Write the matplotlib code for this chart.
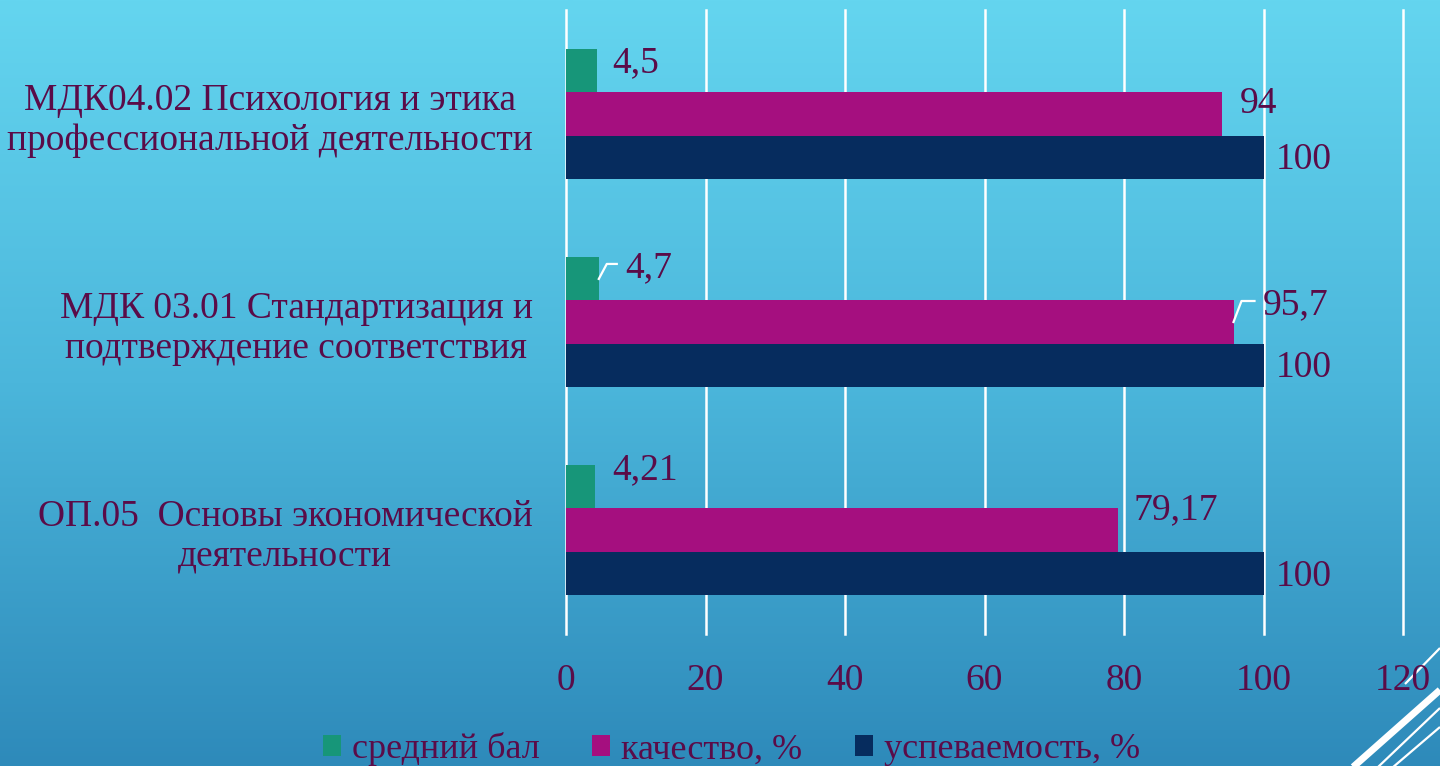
import numpy as np
import matplotlib
matplotlib.use("Agg")
import matplotlib.pyplot as plt
from matplotlib.patches import Patch
from matplotlib.colors import LinearSegmentedColormap
import matplotlib.transforms as mtransforms

plt.rcParams['font.family'] = ['Liberation Serif', 'DejaVu Serif']

# ---- data ----
categories = ["МДК04.02 Психология и этика\nпрофессиональной деятельности",
              "МДК 03.01 Стандартизация и\nподтверждение соответствия",
              "ОП.05  Основы экономической\nдеятельности"]
series_names = ["средний бал", "качество, %", "успеваемость, %"]
avg_score = [4.5, 4.7, 4.21]
quality = [94, 95.7, 79.17]
progress = [100, 100, 100]
value_labels = [["4,5", "4,7", "4,21"],
                ["94", "95,7", "79,17"],
                ["100", "100", "100"]]
x_ticks = [0, 20, 40, 60, 80, 100, 120]

# ---- style ----
colors = ["#179679", "#a50f7f", "#062c5e"]
text_color = "#5a0c48"
FS = 27

# label offsets in pixels (dx, dy up) per series per category
label_offsets = [[(15, 8), (26, 11), (17, 17)],
                 [(18, 10), (29, 17), (15, 20)],
                 [(12, -3), (12, -3), (12, -4)]]
leaders = {(0, 1): True, (1, 1): True}

W, H = 1440, 766
fig = plt.figure(figsize=(W / 100, H / 100), dpi=100)

# background gradient
bg = fig.add_axes([0, 0, 1, 1], zorder=-10)
cmap = LinearSegmentedColormap.from_list("bg", ["#64d5ef", "#4bb6db", "#2e8aba"])
grad = np.linspace(0, 1, 256).reshape(-1, 1)
bg.imshow(grad, aspect='auto', cmap=cmap, extent=[0, W, H, 0])
bg.set_xlim(0, W)
bg.set_ylim(H, 0)
bg.axis('off')
# decorative lines bottom-right
bg.plot([1440, 1405], [648, 684], color='white', lw=1.6, solid_capstyle='butt')
bg.plot([1440, 1352], [690, 768], color='white', lw=5, solid_capstyle='butt')
bg.plot([1440, 1377], [708, 768], color='white', lw=1.6, solid_capstyle='butt')
bg.plot([1440, 1392], [727, 768], color='white', lw=1.6, solid_capstyle='butt')

ax = fig.add_axes([566 / W, 1 - 634 / H, (1403 - 566) / W, (634 - 10) / H])
ax.set_facecolor('none')

y = np.arange(len(categories))
h = 0.207
all_series = [avg_score, quality, progress]
for i, vals in enumerate(all_series):
    ax.barh(y + (i - 1) * h, vals, height=h, color=colors[i], zorder=3,
            label=series_names[i])
    for j, v in enumerate(vals):
        dx, dy = label_offsets[i][j]
        yc = y[j] + (i - 1) * h
        ax.annotate(value_labels[i][j], xy=(v, yc), xytext=(dx, dy),
                    textcoords='offset pixels', ha='left', va='center',
                    fontsize=FS, color=text_color, zorder=5)
        if (i, j) in leaders:
            trans = fig.dpi_scale_trans + mtransforms.ScaledTranslation(v, yc, ax.transData)
            pts = np.array([[0, 0], [8, dy + 4], [dx - 8, dy + 4]]) / 100.0
            ax.plot(pts[:, 0], pts[:, 1], transform=trans, color='white', lw=1.6,
                    zorder=6, clip_on=False)

ax.set_ylim(2.5, -0.5)
ax.set_xlim(0, 120)
ax.set_xticks(x_ticks)
ax.set_xticklabels([str(t) for t in x_ticks])
ax.set_yticks(y)
ax.set_yticklabels(categories, multialignment='center')
ax.tick_params(axis='y', length=0, pad=24, labelsize=FS, labelcolor=text_color)
ax.tick_params(axis='x', length=0, pad=21, labelsize=FS, labelcolor=text_color)
ax.grid(axis='x', color='white', lw=1.8, zorder=1)
ax.grid(axis='y', visible=False)
for gl in ax.get_xgridlines():
    gl.set_clip_on(False)
for s in ax.spines.values():
    s.set_visible(False)

handles = [Patch(facecolor=c, edgecolor='none') for c in colors]
fig.legend(handles, series_names, loc='lower center', bbox_to_anchor=(0.508, -0.043),
           ncol=3, frameon=False, fontsize=26, labelcolor=text_color,
           handlelength=0.5, handleheight=0.5, handletextpad=0.3, columnspacing=1.45)

fig.savefig("out.png", dpi=100)
